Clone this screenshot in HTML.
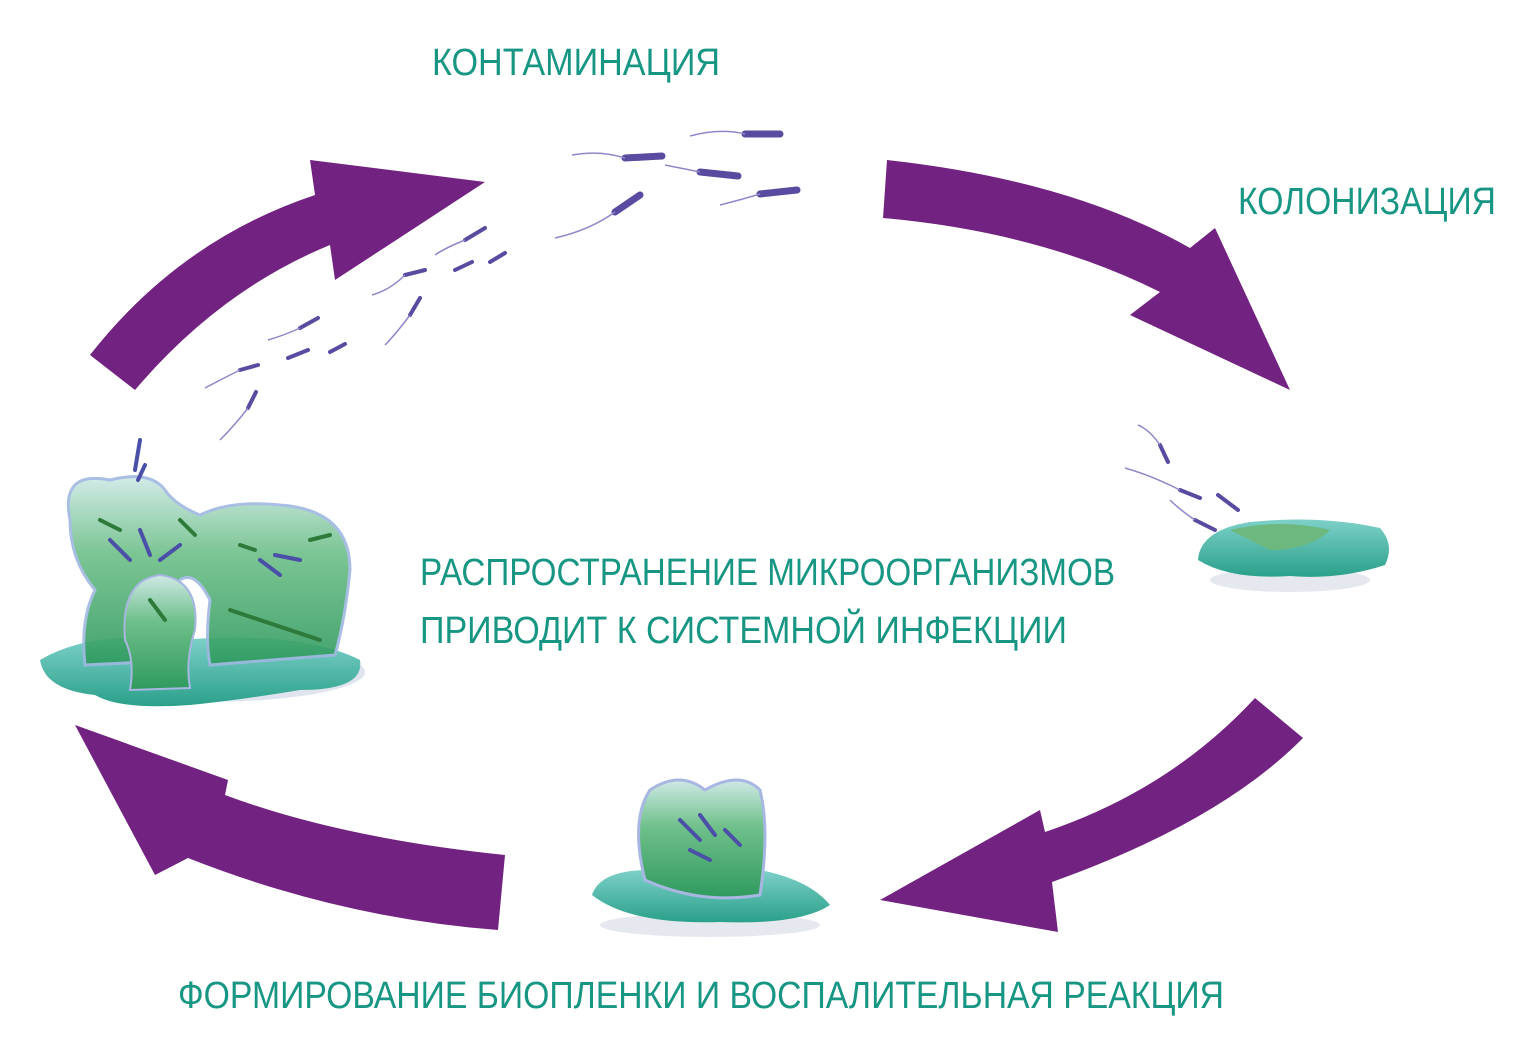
<!DOCTYPE html>
<html><head><meta charset="utf-8"><style>
html,body{margin:0;padding:0;background:#fff;}
svg{display:block;}
text{font-family:"Liberation Sans",sans-serif;fill:#189684;}
</style></head><body>
<svg width="1532" height="1060" viewBox="0 0 1532 1060" xmlns="http://www.w3.org/2000/svg">
<defs>
<linearGradient id="g" x1="0" y1="0" x2="0" y2="1">
<stop offset="0" stop-color="#cfe9e6"/><stop offset="0.4" stop-color="#6fc08a"/><stop offset="1" stop-color="#2f9a5e"/>
</linearGradient>
<linearGradient id="p" x1="0" y1="0" x2="0" y2="1">
<stop offset="0" stop-color="#7dd0c8"/><stop offset="1" stop-color="#2aa08a"/>
</linearGradient>
</defs>
<!-- arrows -->
<g fill="#722280">
<path d="M90,355 Q180,240 315,195 L310,160 L485,182 L335,280 L330,245 Q220,290 135,390 Z"/>
<path d="M887,160 Q1070,180 1190,248 L1215,228 L1290,390 L1130,315 L1160,292 Q1040,232 883,218 Z"/>
<path d="M1255,698 Q1170,790 1045,832 L1040,810 L880,900 L1058,932 L1052,882 Q1220,822 1303,738 Z"/>
<path d="M505,855 Q340,838 225,795 L228,780 L75,725 L155,875 L188,858 Q340,918 498,930 Z"/>
</g>
<!-- left biofilm -->
<g>
<ellipse cx="205" cy="672" rx="160" ry="30" fill="#dfe4ee"/>
<path d="M40,660 Q90,630 180,640 Q300,630 360,660 Q365,690 300,690 Q240,700 190,705 Q120,710 95,695 Q45,690 40,660Z" fill="url(#p)"/>
<path d="M70,520 Q60,470 110,480 Q150,470 165,490 Q175,505 200,515 Q230,500 280,505 Q350,510 350,570 Q345,620 335,655 L210,665 Q205,640 210,600 Q195,570 180,580 Q170,600 180,620 L185,660 L85,665 Q80,620 95,590 Q70,560 70,520Z" fill="url(#g)" stroke="#9fb8e0" stroke-width="3" opacity="0.9"/>
<path d="M125,640 Q120,580 160,575 Q200,580 195,630 Q185,660 190,688 L130,690 Q135,660 125,640Z" fill="url(#g)" stroke="#a7b7e2" stroke-width="2"/>
<g stroke="#4a4fa8" stroke-width="4" stroke-linecap="round">
<line x1="110" y1="540" x2="130" y2="560"/><line x1="140" y1="530" x2="150" y2="555"/><line x1="160" y1="560" x2="180" y2="545"/>
<line x1="260" y1="560" x2="280" y2="575"/><line x1="275" y1="555" x2="300" y2="560"/><line x1="140" y1="440" x2="135" y2="470"/><line x1="145" y1="465" x2="138" y2="480"/>
</g>
<g stroke="#2d7a3a" stroke-width="4" stroke-linecap="round">
<line x1="100" y1="520" x2="120" y2="530"/><line x1="180" y1="520" x2="195" y2="535"/><line x1="240" y1="545" x2="255" y2="550"/><line x1="310" y1="540" x2="330" y2="535"/><line x1="230" y1="610" x2="320" y2="640"/><line x1="150" y1="600" x2="165" y2="620"/>
</g>
</g>
<!-- right flat biofilm -->
<ellipse cx="1290" cy="580" rx="80" ry="12" fill="#e6e8f0"/>
<path d="M1198,560 Q1200,530 1250,522 Q1320,515 1380,528 Q1395,545 1385,565 Q1340,580 1290,576 Q1230,580 1198,560Z" fill="url(#p)"/>
<path d="M1230,530 Q1280,518 1330,530 Q1310,550 1270,550 Z" fill="#6cb87e"/>
<!-- middle biofilm -->
<ellipse cx="710" cy="925" rx="110" ry="12" fill="#e6e8f0"/>
<path d="M592,895 Q600,870 650,870 L760,870 Q810,880 830,905 Q800,925 720,922 Q630,925 592,895Z" fill="url(#p)"/>
<path d="M645,880 Q630,820 650,790 Q680,770 705,790 Q740,770 760,790 Q770,830 760,895 Q700,905 645,880Z" fill="url(#g)" stroke="#a7b7e2" stroke-width="3"/>
<g stroke="#4a4fa8" stroke-width="4" stroke-linecap="round">
<line x1="680" y1="820" x2="700" y2="840"/><line x1="700" y1="815" x2="715" y2="835"/><line x1="690" y1="850" x2="710" y2="860"/><line x1="725" y1="830" x2="740" y2="845"/>
</g>
<!-- bacteria -->
<g stroke="#5a4aa0" stroke-width="7" stroke-linecap="round">
<line x1="745" y1="134" x2="780" y2="134"/><line x1="625" y1="158" x2="662" y2="156"/><line x1="700" y1="172" x2="738" y2="176"/><line x1="760" y1="194" x2="797" y2="190"/><line x1="615" y1="212" x2="640" y2="195"/>
</g>
<g stroke="#5a4aa0" stroke-width="4" stroke-linecap="round">
<line x1="465" y1="240" x2="485" y2="228"/><line x1="455" y1="270" x2="472" y2="262"/><line x1="490" y1="262" x2="505" y2="253"/><line x1="405" y1="275" x2="425" y2="270"/><line x1="410" y1="315" x2="420" y2="298"/><line x1="300" y1="328" x2="318" y2="318"/><line x1="288" y1="358" x2="308" y2="350"/><line x1="330" y1="352" x2="345" y2="344"/><line x1="240" y1="370" x2="258" y2="365"/><line x1="248" y1="408" x2="256" y2="392"/>
<line x1="1160" y1="445" x2="1168" y2="462"/><line x1="1180" y1="490" x2="1200" y2="498"/><line x1="1218" y1="495" x2="1238" y2="510"/><line x1="1195" y1="520" x2="1215" y2="530"/>
</g>
<g stroke="#8f88c8" stroke-width="1.5" fill="none">
<path d="M745,134 Q720,128 690,136"/><path d="M625,158 Q600,150 572,155"/><path d="M700,172 Q680,168 665,165"/><path d="M760,194 Q740,200 720,205"/><path d="M615,212 Q590,230 555,238"/>
<path d="M465,240 Q445,248 435,255"/><path d="M405,275 Q390,290 372,295"/><path d="M410,315 Q395,335 385,345"/><path d="M300,328 Q285,335 268,340"/><path d="M240,370 Q220,380 205,388"/><path d="M248,408 Q235,425 220,440"/>
<path d="M1160,445 Q1150,430 1138,425"/><path d="M1180,490 Q1150,475 1125,468"/><path d="M1195,520 Q1180,510 1170,500"/>
</g>
<!-- labels -->
<text x="432" y="75" font-size="38" textLength="288" lengthAdjust="spacingAndGlyphs">КОНТАМИНАЦИЯ</text>
<text x="1238" y="214" font-size="38" textLength="258" lengthAdjust="spacingAndGlyphs">КОЛОНИЗАЦИЯ</text>
<text x="420" y="585" font-size="38" textLength="695" lengthAdjust="spacingAndGlyphs">РАСПРОСТРАНЕНИЕ МИКРООРГАНИЗМОВ</text>
<text x="420" y="643" font-size="38" textLength="647" lengthAdjust="spacingAndGlyphs">ПРИВОДИТ К СИСТЕМНОЙ ИНФЕКЦИИ</text>
<text x="178" y="1008" font-size="38" textLength="1046" lengthAdjust="spacingAndGlyphs">ФОРМИРОВАНИЕ БИОПЛЕНКИ И ВОСПАЛИТЕЛЬНАЯ РЕАКЦИЯ</text>
</svg>
</body></html>
